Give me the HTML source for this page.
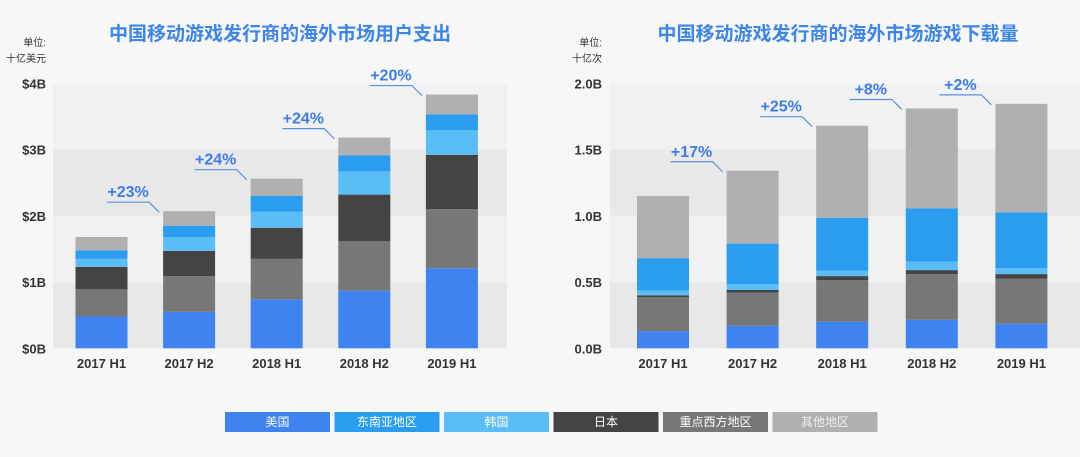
<!DOCTYPE html>
<html><head><meta charset="utf-8">
<style>
html,body{margin:0;padding:0;background:#f7f7f7;}
#wrap{position:relative;width:1080px;height:457px;overflow:hidden;font-family:"Liberation Sans","Noto Sans CJK SC",sans-serif;}
svg{position:absolute;left:0;top:0;}
</style></head>
<body>
<div id="wrap">
<svg id="svg" width="1080" height="457" xmlns="http://www.w3.org/2000/svg"></svg>
</div>
<script>
const categories = ["2017 H1","2017 H2","2018 H1","2018 H2","2019 H1"];
const seriesNames = ["美国","重点西方地区","日本","韩国","东南亚地区","其他地区"];
const seriesColors = ["#3f83f1","#777777","#444444","#5bbdf5","#2a9df0","#b0b0b0"];
// Left chart: user spend (billions USD)
const spendUS    = [0.48,0.55,0.74,0.87,1.21];
const spendWest  = [0.41,0.54,0.61,0.75,0.89];
const spendJapan = [0.34,0.38,0.47,0.70,0.82];
const spendKorea = [0.12,0.21,0.24,0.35,0.37];
const spendSEA   = [0.13,0.17,0.24,0.24,0.24];
const spendOther = [0.20,0.22,0.26,0.27,0.30];
const spendTicks = [0,1,2,3,4];
const spendTickLabels = ["$0B","$1B","$2B","$3B","$4B"];
const spendGrowth = ["","+23%","+24%","+24%","+20%"];
// Right chart: downloads (billions)
const dlUS    = [0.13,0.17,0.20,0.215,0.185];
const dlWest  = [0.255,0.25,0.315,0.345,0.34];
const dlJapan = [0.015,0.02,0.03,0.03,0.035];
const dlKorea = [0.035,0.045,0.04,0.065,0.045];
const dlSEA   = [0.245,0.305,0.40,0.40,0.42];
const dlOther = [0.47,0.55,0.695,0.755,0.82];
const dlTicks = [0,0.5,1,1.5,2];
const dlTickLabels = ["0.0B","0.5B","1.0B","1.5B","2.0B"];
const dlGrowth = ["","+17%","+25%","+8%","+2%"];
const legendOrder = [0,4,3,2,1,5];

const NS="http://www.w3.org/2000/svg";
const svg=document.getElementById('svg');
function mk(tag,attrs,parent){const e=document.createElementNS(NS,tag);for(const k in attrs)e.setAttribute(k,attrs[k]);(parent||svg).appendChild(e);return e;}

function chart(cfg){
  const g=mk('g',{});
  
  
  const x0=cfg.x0,x1=cfg.x1,yTop=83.3,yBot=348.3,max=cfg.max;
  const y=v=>yBot-(v/max)*(yBot-yTop);
  const xc=i=>cfg.c0+cfg.step*i;
  for(let i=0;i<cfg.ticks.length-1;i++){
    const r=mk('rect',{x:x0,y:y(cfg.ticks[i+1]),width:x1-x0,height:y(cfg.ticks[i])-y(cfg.ticks[i+1]),fill:(i%2===0)?'#e8e8e8':'#f1f1f1'},g);
    
    
  }
  cfg.ticks.forEach((t,i)=>{
    const tx=mk('text',{x:cfg.tickX,y:y(t)+5,'text-anchor':'end','font-size':13,'font-weight':'bold',fill:'#333'},g);
    tx.textContent=cfg.tickLabels[i];
    
    
  });
  const ti=mk('text',{x:cfg.titleX,y:40,'text-anchor':'middle','font-size':19,'font-weight':'bold',fill:'#3d85e6'},g);
  ti.textContent=cfg.title;
  
  
  const u1=mk('text',{x:cfg.unitX,y:46,'text-anchor':'end','font-size':10,fill:'#333'},g);
  u1.textContent='单位:';
  
  
  const u2=mk('text',{x:cfg.unitX,y:62,'text-anchor':'end','font-size':10,fill:'#333'},g);
  u2.textContent=cfg.unit;
  
  
  const bw=52;
  categories.forEach((c,i)=>{
    let acc=0;
    cfg.series.forEach((s,k)=>{
      const v=s[i];
      const r=mk('rect',{x:xc(i)-bw/2,y:y(acc+v),width:bw,height:y(acc)-y(acc+v),fill:seriesColors[k]},g);
      
      
      acc+=v;
    });
    const lbl=mk('text',{x:xc(i),y:368,'text-anchor':'middle','font-size':13,'font-weight':'bold',fill:'#333'},g);
    lbl.textContent=c;
    
    
    if(cfg.growth[i]){
      const left=xc(i)-bw/2, top=y(acc);
      const hy=top-9;
      const p=mk('polyline',{points:`${left-56},${hy} ${left-14},${hy} ${left-4},${top+1}`,fill:'none',stroke:'#5b8fe0','stroke-width':1.2},g);
      
      
      const gt=mk('text',{x:left-35,y:hy-5,'text-anchor':'middle','font-size':16,'font-weight':'bold',fill:'#3d7de8'},g);
      gt.textContent=cfg.growth[i];
      
      
    }
  });
}
chart({name:'spend-chart',x0:53,x1:507,c0:101.5,step:87.6,max:4,ticks:spendTicks,tickLabels:spendTickLabels,tickX:46,
  series:[spendUS,spendWest,spendJapan,spendKorea,spendSEA,spendOther],growth:spendGrowth,
  title:'中国移动游戏发行商的海外市场用户支出',titleX:280,unitX:46,unit:'十亿美元'});
chart({name:'downloads-chart',x0:610,x1:1080,c0:663,step:89.6,max:2,ticks:dlTicks,tickLabels:dlTickLabels,tickX:602,
  series:[dlUS,dlWest,dlJapan,dlKorea,dlSEA,dlOther],growth:dlGrowth,
  title:'中国移动游戏发行商的海外市场游戏下载量',titleX:838,unitX:602,unit:'十亿次'});

const lg=mk('g',{});


legendOrder.forEach((k,j)=>{
  const lx=225+j*109.5;
  const r=mk('rect',{x:lx,y:412,width:105,height:20,fill:seriesColors[k]},lg);
  
  
  const t=mk('text',{x:lx+52.5,y:426,'text-anchor':'middle','font-size':12,fill:(k===5)?'#eeeeee':'#ffffff'},lg);
  t.textContent=seriesNames[k];
  
  
});
</script>
</body></html>
